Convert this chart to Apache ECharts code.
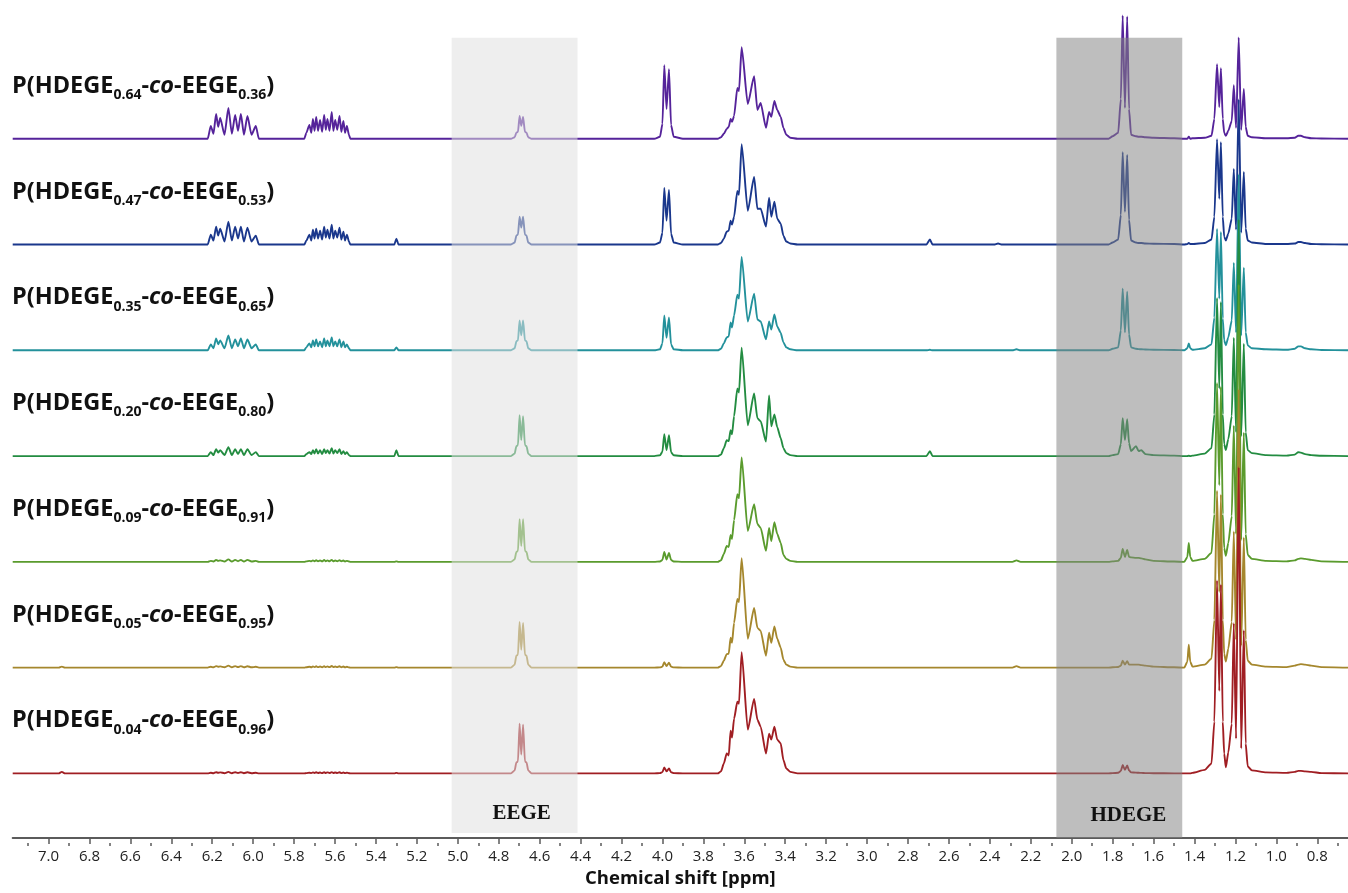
<!DOCTYPE html>
<html>
<head>
<meta charset="utf-8">
<title>1H NMR stack</title>
<script src="https://cdn.jsdelivr.net/npm/echarts@6/dist/echarts.min.js"></script>
<style>
  html, body { margin: 0; padding: 0; background: #ffffff; }
  #chart { width: 1348px; height: 893px; }
</style>
</head>
<body>
<div id="chart"></div>
<script>
// Chemical shift sampling points (ppm), shared by every spectrum
const shiftPpm = [
  7.175, 6.95, 6.935, 6.92,
  6.222, 6.207, 6.194, 6.181, 6.171, 6.161, 6.140, 6.121, 6.104, 6.088, 6.074, 6.060, 6.045, 6.028, 6.008, 5.987, 5.972,
  5.750, 5.740, 5.725, 5.716, 5.708, 5.700, 5.692, 5.683, 5.673, 5.663, 5.653, 5.645, 5.637, 5.627, 5.616, 5.608, 5.599, 5.589, 5.578, 5.569, 5.559, 5.551, 5.542, 5.532, 5.525,
  5.310, 5.300, 5.290,
  4.740, 4.722, 4.714, 4.706, 4.698, 4.690, 4.681, 4.672, 4.664, 4.656, 4.640,
  4.040, 4.012, 4.000, 3.991, 3.980, 3.968, 3.958, 3.945, 3.900,
  3.730, 3.714, 3.700, 3.686, 3.676, 3.667, 3.660, 3.650, 3.634, 3.626, 3.613, 3.583, 3.552, 3.536, 3.520, 3.494, 3.479, 3.468, 3.453, 3.439, 3.422, 3.409, 3.395, 3.375, 3.340,
  2.710, 2.693, 2.680, 2.380, 2.360, 2.340, 2.290, 2.270, 2.250,
  1.820, 1.800, 1.773, 1.760, 1.751, 1.740, 1.729, 1.720, 1.710, 1.686, 1.673, 1.660, 1.640, 1.600, 1.500,
  1.450, 1.435, 1.428, 1.421, 1.410, 1.350, 1.317, 1.303, 1.290, 1.279, 1.271, 1.262, 1.255, 1.247, 1.235, 1.218, 1.208, 1.197, 1.184, 1.172, 1.159, 1.150, 1.140, 1.120, 1.050, 0.950, 0.910, 0.893, 0.880, 0.860, 0.830, 0.780, 0.650
];

// Signal intensity of each copolymer at the points above
const intensity064 = [
  0, 0, 0, 0,
  0, 13, 5, 25, 12, 21, 4, 31, 5, 24, 8, 25, 4, 23, 4, 13, 0,
  0, 6, 14, 6, 20, 8, 22, 8, 19, 7, 24, 9, 20, 8, 27, 8, 19, 9, 23, 7, 18, 6, 13, 4, 0,
  0, 0, 0,
  0, 1.5, 6, 7, 23, 13, 22, 7, 6, 1.5, 0,
  0, 2, 15, 74, 30, 70, 14, 2, 0,
  0, 1.5, 5, 10, 12, 20, 17, 23, 51, 48, 92, 35, 63, 29, 36, 11, 27, 22, 38, 29, 22, 11, 4, 1, 0,
  0, 0, 0, 0, 0, 0, 0, 0, 0,
  0, 2.6, 6, 40, 124, 31, 123, 30, 4, 2.5, 2, 2, 1.5, 1, 0.5,
  0, 0, 2, 0, 0.5, 1, 3, 20, 75, 32, 71, 20, 6, 3, 8, 18, 54, 11, 102, 9, 50, 12, 3, 1.5, 0.5, 0.5, 1, 3, 3, 1.5, 0.5, 0.3, 0
];
const intensity047 = [
  0, 0, 0, 0,
  0, 10, 4, 18, 9, 16, 3, 23, 4, 18, 6, 18, 3, 17, 3, 9, 0,
  0, 4, 10, 4, 15, 6, 16, 6, 14, 5, 18, 7, 15, 6, 20, 6, 14, 7, 17, 5, 13, 4, 10, 3, 0,
  0, 6, 0,
  0, 2, 9, 10, 28, 17, 28, 10, 9, 2, 0,
  0, 2, 12, 57, 24, 55, 11, 2, 0,
  0, 1.5, 6, 13, 14, 24, 20, 28, 54, 50, 101, 34, 68, 36, 36, 18, 47, 28, 43, 26, 21, 9, 3, 1, 0,
  0, 5, 0, 0, 1, 0, 0, 0, 0,
  0, 2, 5, 30, 93, 33, 90, 25, 4, 2, 1.5, 1.5, 1, 0.8, 0.5,
  0, 0.5, 1.5, 0.5, 0.5, 1.5, 5, 28, 106, 46, 103, 28, 8, 4, 11, 26, 76, 15, 146, 12, 73, 16, 4, 2, 0.5, 0.5, 1, 2.5, 2.5, 1.5, 0.5, 0.3, 0
];
const intensity035 = [
  0, 0, 0, 0,
  0, 6, 2, 12, 6, 10, 2, 15, 2, 11, 4, 12, 2, 11, 2, 6, 0,
  0, 3, 7, 3, 10, 4, 11, 4, 9, 3, 12, 4, 10, 4, 13, 4, 9, 4, 11, 3, 9, 3, 6, 2, 0,
  0, 3, 0,
  0, 2, 9, 10, 30, 15, 30, 10, 9, 2, 0,
  0, 1, 7, 35, 12.5, 33, 6, 1, 0,
  0, 1.5, 7, 13, 14, 28, 23, 35, 56, 52, 94, 29, 57, 31, 29, 11, 29, 21, 36, 24, 17.5, 8, 3, 1, 0,
  0, 0.5, 0, 0, 0, 0, 0, 1, 0,
  0, 1.5, 3, 20, 62, 18, 59, 16, 3, 1.5, 1.2, 1, 0.8, 0.5, 0.3,
  0, 2, 7, 2, 0.5, 2, 6, 33, 122, 52, 119, 32, 10, 5, 13, 30, 88, 18, 177, 15, 83, 18, 5, 2, 1, 0.5, 1.5, 4, 4, 2, 1, 0.3, 0
];
const intensity020 = [
  0, 0, 0, 0,
  0, 4, 1, 7, 3.5, 6, 1, 9, 1, 7, 2, 7, 1, 7, 1, 4, 0,
  0, 2, 4, 2, 6, 2.5, 7, 2.5, 6, 2, 7, 3, 6, 2.5, 8, 2.5, 6, 3, 7, 2, 5, 2, 4, 1, 0,
  0, 6, 0,
  0, 2.5, 10, 11, 41, 16, 40, 11, 10, 2.5, 0,
  0, 0.8, 4.5, 22, 6, 21, 4, 0.8, 0,
  0, 1.5, 8, 16, 15, 26, 22, 40, 68, 64, 109, 31, 63, 38, 35, 14.5, 61, 30, 42, 29, 18, 8, 3, 1, 0,
  0, 5, 0, 0, 0, 0, 0, 0, 0,
  0, 1, 2, 12, 38, 16, 37, 13, 5, 10, 5, 6, 2, 1, 0.5,
  0, 0, 0.5, 0, 0.5, 2.5, 8, 42, 159, 68, 155, 42, 12, 6, 17, 40, 119, 24, 238, 20, 113, 24, 6, 3, 1, 0.5, 1.5, 4, 3.5, 2, 1, 0.3, 0
];
const intensity009 = [
  0, 0, 0, 0,
  0, 1, 0.3, 2, 1, 1.5, 0.3, 2.5, 0.3, 2, 0.6, 2, 0.3, 2, 0.3, 1, 0,
  0, 0.5, 1, 0.5, 1.5, 0.6, 1.6, 0.6, 1.4, 0.5, 1.8, 0.6, 1.5, 0.6, 2, 0.6, 1.4, 0.6, 1.7, 0.5, 1.3, 0.4, 1, 0.3, 0,
  0, 0.5, 0,
  0, 2.5, 10, 11, 43, 16, 43, 11, 10, 2.5, 0,
  0, 0.4, 2, 10, 2.4, 9, 2, 0.4, 0,
  0, 1.5, 8, 16, 15, 27, 23, 42, 68, 64, 105, 31, 58, 38, 34, 11, 34, 21, 40, 28, 19, 7, 3, 1, 0,
  0, 0, 0, 0, 0, 0, 0, 1.5, 0,
  0, 0.5, 1, 4, 13, 5, 12, 5, 4.5, 4, 4, 3.5, 2.5, 1, 0.3,
  0, 5, 19, 5, 1, 3, 9, 48, 180, 77, 176, 48, 14, 6, 19, 46, 137, 28, 279, 22, 130, 28, 7, 3, 1, 0.5, 1.5, 3, 3.5, 3, 2, 0.5, 0
];
const intensity005 = [
  0, 0, 1, 0,
  0, 0.8, 0.3, 1.5, 0.8, 1.2, 0.3, 2, 0.3, 1.5, 0.5, 1.5, 0.3, 1.4, 0.3, 0.8, 0,
  0, 0.4, 0.8, 0.4, 1.2, 0.5, 1.3, 0.5, 1.1, 0.4, 1.4, 0.5, 1.2, 0.5, 1.6, 0.5, 1.1, 0.5, 1.4, 0.4, 1.1, 0.3, 0.8, 0.2, 0,
  0, 0.5, 0,
  0, 3, 12, 13, 46, 18, 45, 13, 12, 3, 0,
  0, 0.2, 1, 5.5, 1.5, 5, 1, 0.2, 0,
  0, 1.5, 7, 13.5, 14, 30, 25, 45, 69, 66, 110, 29, 60, 40, 37, 12, 35, 25, 41.5, 29, 20, 8, 3, 1, 0,
  0, 0, 0, 0, 0, 0, 0, 1.5, 0,
  0, 0.3, 0.6, 2, 7, 3, 6.5, 3, 3, 3, 3, 2.5, 2, 1, 0.3,
  0, 6, 23, 6, 1, 3, 9, 48, 178, 76, 174, 48, 14, 6, 19, 46, 137, 28, 280, 22, 131, 28, 7, 3, 1, 0.5, 2, 3, 3.5, 3, 2, 0.5, 0
];
const intensity004 = [
  0, 0, 1.5, 0,
  0, 0.6, 0.2, 1.2, 0.6, 1, 0.2, 1.5, 0.2, 1.2, 0.4, 1.2, 0.2, 1.1, 0.2, 0.6, 0,
  0, 0.3, 0.7, 0.3, 1, 0.4, 1.1, 0.4, 0.9, 0.3, 1.2, 0.4, 1, 0.4, 1.3, 0.4, 0.9, 0.4, 1.1, 0.3, 0.9, 0.3, 0.7, 0.2, 0,
  0, 0.5, 0,
  0, 3, 11, 12, 50, 19, 49, 12, 11, 3, 0,
  0, 0.3, 1.3, 6, 2, 5, 1.2, 0.3, 0,
  0, 2, 10, 20, 18, 43, 36, 55, 72, 70, 122, 44, 75, 54, 47, 20, 40, 34, 47, 34, 30, 13.5, 5, 1.5, 0,
  0, 0, 0, 0, 0, 0, 0, 0, 0,
  0, 0.3, 0.6, 2.5, 8.4, 3.5, 8, 3, 1, 0.8, 0.6, 0.5, 0.3, 0.2, 0,
  0, 0, 0, 0, 0.5, 3.5, 10, 52, 194, 83, 190, 52, 20, 6, 21, 50, 151, 35, 308, 25, 144, 30, 7, 3, 1, 0.5, 1.5, 2.5, 2.5, 2, 1.5, 0.3, 0
];

// Copolymer compositions (HDEGE fraction, EEGE fraction), top to bottom
const hdegeFraction = ['0.64', '0.47', '0.35', '0.20', '0.09', '0.05', '0.04'];
const eegeFraction  = ['0.36', '0.53', '0.65', '0.80', '0.91', '0.95', '0.96'];

// Axis ticks
const majorTicks = [7.0, 6.8, 6.6, 6.4, 6.2, 6.0, 5.8, 5.6, 5.4, 5.2, 5.0, 4.8, 4.6, 4.4, 4.2, 4.0, 3.8, 3.6, 3.4, 3.2, 3.0, 2.8, 2.6, 2.4, 2.2, 2.0, 1.8, 1.6, 1.4, 1.2, 1.0, 0.8];
const minorTicks = [7.1, 6.9, 6.7, 6.5, 6.3, 6.1, 5.9, 5.7, 5.5, 5.3, 5.1, 4.9, 4.7, 4.5, 4.3, 4.1, 3.9, 3.7, 3.5, 3.3, 3.1, 2.9, 2.7, 2.5, 2.3, 2.1, 1.9, 1.7, 1.5, 1.3, 1.1, 0.9, 0.7];

// Highlighted signal windows (ppm)
const windowNames = ['EEGE', 'HDEGE'];
const windowFrom = [5.03, 2.075];
const windowTo = [4.415, 1.46];

const spectra = [intensity064, intensity047, intensity035, intensity020, intensity009, intensity005, intensity004];
const traceColors = ['#55239a', '#1a378c', '#23919b', '#238c41', '#5a9b2d', '#a5872d', '#a01e23'];

// Vertical stacking of the spectra (y units equal screen pixels)
const stackTop = 703.4;
const stackStep = 106.4;
const baselineOf = k => stackTop - stackStep * k;

const chart = echarts.init(document.getElementById('chart'), null, { renderer: 'canvas' });

const gridBox = { left: 12.7, right: 0, top: 0, bottom: 50 };
const axisGray = '#5b5b5b';

const spectrumSeries = spectra.map((vals, k) => ({
  type: 'line',
  name: 'P(HDEGE' + hdegeFraction[k] + '-co-EEGE' + eegeFraction[k] + ')',
  xAxisIndex: 0,
  yAxisIndex: 0,
  data: shiftPpm.map((p, i) => [p, baselineOf(k) + vals[i]]),
  showSymbol: false,
  symbol: 'none',
  silent: true,
  smooth: 0.2,
  smoothMonotone: 'x',
  z: 2,
  lineStyle: { color: traceColors[k], width: 1.9, join: 'round' }
}));

const windowLabel = (dist, dx) => ({
  show: true, position: 'insideBottom', distance: dist, offset: [dx, 0],
  fontFamily: 'Liberation Serif', fontWeight: 'bold', fontSize: 21, color: '#111'
});

const windowSeries = {
  type: 'line',
  data: [],
  xAxisIndex: 0,
  yAxisIndex: 0,
  silent: true,
  z: 10,
  markArea: {
    silent: true,
    z: 10,
    data: [
      [
        { name: windowNames[0], xAxis: windowFrom[0], yAxis: 805,
          itemStyle: { color: 'rgba(224,224,224,0.55)' }, label: windowLabel(9, 7) },
        { xAxis: windowTo[0], yAxis: 5 }
      ],
      [
        { name: windowNames[1], xAxis: windowFrom[1], yAxis: 805,
          itemStyle: { color: 'rgba(133,133,133,0.53)' }, label: windowLabel(12, 9) },
        { xAxis: windowTo[1], yAxis: 0 }
      ]
    ]
  }
};

chart.setOption({
  animation: false,
  backgroundColor: '#ffffff',
  grid: [Object.assign({}, gridBox), Object.assign({}, gridBox)],
  xAxis: [
    {
      type: 'value', gridIndex: 0, inverse: true, min: 0.65, max: 7.175,
      axisLine: { show: true, lineStyle: { color: axisGray, width: 2 } },
      axisTick: { show: true, inside: false, length: 6, customValues: majorTicks, lineStyle: { color: axisGray, width: 1.5 } },
      axisLabel: {
        show: true, customValues: majorTicks, margin: 11,
        formatter: v => v.toFixed(1),
        fontFamily: 'Open Sans', fontSize: 15, color: '#222'
      },
      splitLine: { show: false },
      name: 'Chemical shift [ppm]',
      nameLocation: 'middle',
      nameGap: 31,
      nameTextStyle: { fontFamily: 'Open Sans', fontWeight: 'bold', fontSize: 18.5, color: '#111' }
    },
    {
      type: 'value', gridIndex: 1, inverse: true, min: 0.65, max: 7.175,
      axisLine: { show: false },
      axisTick: { show: true, inside: false, length: 3, customValues: minorTicks, lineStyle: { color: axisGray, width: 1.5 } },
      axisLabel: { show: false },
      splitLine: { show: false }
    }
  ],
  yAxis: [
    { type: 'value', gridIndex: 0, min: 0, max: 843, show: false },
    { type: 'value', gridIndex: 1, min: 0, max: 843, show: false }
  ],
  series: spectrumSeries.concat([windowSeries])
});

// Sample names, placed above each spectrum baseline
const nameStyle = {
  m: { fontFamily: 'Open Sans', fontWeight: 'bold', fontSize: 23.5, fill: '#111', lineHeight: 32 },
  i: { fontFamily: 'Open Sans', fontWeight: 'bold', fontStyle: 'italic', fontSize: 23.5, fill: '#111', lineHeight: 32 },
  s: { fontFamily: 'Open Sans', fontWeight: 'bold', fontSize: 14, fill: '#111', lineHeight: 15, verticalAlign: 'bottom' }
};
const nameLabels = spectra.map((vals, k) => {
  const pos = chart.convertToPixel({ gridIndex: 0 }, [7.0, baselineOf(k) + 53]);
  return {
    type: 'text',
    x: 12,
    y: pos[1],
    silent: true,
    style: {
      text: '{m|P(HDEGE}{s|' + hdegeFraction[k] + '}{m|-}{i|co}{m|-EEGE}{s|' + eegeFraction[k] + '}{m|)}',
      rich: nameStyle,
      verticalAlign: 'middle',
      align: 'left'
    }
  };
});
chart.setOption({ graphic: nameLabels });
</script>
</body>
</html>
